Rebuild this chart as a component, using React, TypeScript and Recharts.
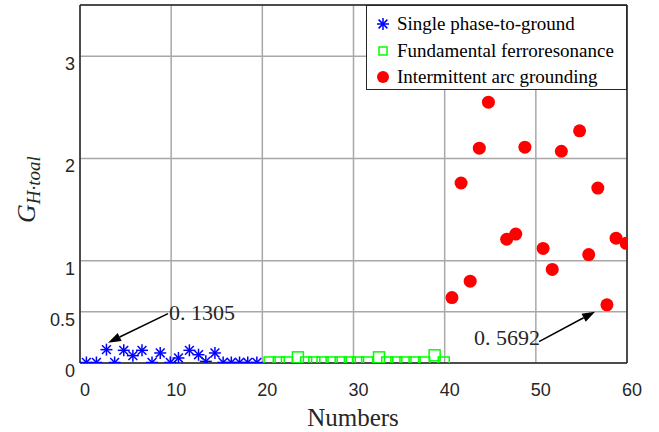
import React from 'react';
import { ScatterChart, Scatter, XAxis, YAxis, CartesianGrid, ReferenceLine, Legend } from 'recharts';

const singleX = [0.7, 1.8, 2.9, 3.8, 4.8, 5.8, 6.8, 7.9, 8.8, 9.9, 10.8, 12.0, 13.0, 13.8, 14.8, 15.7, 16.6, 17.5, 18.4, 19.4];
const singleY = [0.005, 0.005, 0.1305, 0.005, 0.124, 0.072, 0.124, 0.005, 0.098, 0.005, 0.049, 0.124, 0.081, 0.016, 0.098, 0.005, 0.005, 0.005, 0.005, 0.005];

const ferroX = [20.8, 21.8, 22.7, 23.9, 24.8, 25.7, 26.6, 27.6, 28.6, 29.6, 30.5, 31.5, 32.8, 33.7, 34.7, 35.7, 36.7, 37.75, 38.9, 39.9];
const ferroY = [0.005, 0.005, 0.005, 0.055, 0.005, 0.005, 0.005, 0.005, 0.005, 0.005, 0.005, 0.005, 0.055, 0.005, 0.005, 0.005, 0.005, 0.005, 0.075, 0.005];

const arcX = [40.8, 41.8, 42.8, 43.8, 44.8, 46.8, 47.8, 48.8, 50.8, 51.8, 52.8, 54.8, 55.8, 56.8, 57.8, 58.8, 59.9];
const arcY = [0.64, 1.76, 0.8, 2.1, 2.55, 1.21, 1.26, 2.11, 1.12, 0.915, 2.07, 2.27, 1.06, 1.71, 0.5692, 1.22, 1.17];

const xTicks = [0, 10, 20, 30, 40, 50, 60];
const yTicks = [0, 0.5, 1, 2, 3];

const seriesNames = ['Single phase-to-ground', 'Fundamental ferroresonance', 'Intermittent arc grounding'];

// annotation arrows: [from, to] in data units, plus label text
const annoText = ['0. 1305', '0. 5692'];
const annoFrom = [{ x: 9.65, y: 0.483 }, { x: 50.35, y: 0.209 }];
const annoTo = [{ x: 3.07, y: 0.199 }, { x: 56.5, y: 0.502 }];

const zip = (xs: number[], ys: number[]) => xs.map((x, i) => ({ x, y: ys[i] }));
const singleData = zip(singleX, singleY);
const ferroData = zip(ferroX, ferroY);
const arcData = zip(arcX, arcY);

const AX = '#262626';
const SERIF = '"Liberation Serif", "Times New Roman", serif';
const SANS = '"Liberation Sans", Arial, sans-serif';

const Star = (props: any) => {
  const { cx, cy } = props;
  if (cx == null || cy == null) return null;
  const r = 6;
  const d = 4.4;
  return (
    <g stroke="#0000ff" strokeWidth={1.5} fill="none">
      <line x1={cx - r} y1={cy} x2={cx + r} y2={cy} />
      <line x1={cx} y1={cy - r} x2={cx} y2={cy + r} />
      <line x1={cx - d} y1={cy - d} x2={cx + d} y2={cy + d} />
      <line x1={cx - d} y1={cy + d} x2={cx + d} y2={cy - d} />
    </g>
  );
};

const Square = (props: any) => {
  const { cx, cy } = props;
  if (cx == null || cy == null) return null;
  const h = 5.5;
  return <rect x={cx - h} y={cy - h} width={2 * h} height={2 * h} fill="none" stroke="#00ff00" strokeWidth={1.5} />;
};

const Dot = (props: any) => {
  const { cx, cy } = props;
  if (cx == null || cy == null) return null;
  return <circle cx={cx} cy={cy} r={6.5} fill="#ff0000" stroke="none" />;
};

const XTick = (props: any) => {
  const { x, y, payload } = props;
  return (
    <text x={x + 5} y={y + 33} textAnchor="middle" fontFamily={SANS} fontSize={18} fill={AX}>
      {payload.value}
    </text>
  );
};

const YTick = (props: any) => {
  const { x, y, payload } = props;
  return (
    <text x={x - 5} y={y + 14} textAnchor="end" fontFamily={SANS} fontSize={18} fill={AX}>
      {payload.value}
    </text>
  );
};

const YLabel = () => (
  <text transform="rotate(-90 35 223)" x={35} y={223} fontFamily={SERIF} fontStyle="italic" fill={AX}>
    <tspan fontSize={26}>G</tspan>
    <tspan fontSize={19} dy={5}>H·toal</tspan>
  </text>
);

const XLabel = () => (
  <text x={353} y={426} textAnchor="middle" fontFamily={SERIF} fontSize={25} fill={AX}>
    Numbers
  </text>
);

const makeArrow = (idx: number) => (props: any) => {
  const { x1, y1, x2, y2 } = props;
  if ([x1, y1, x2, y2].some((v) => v == null || isNaN(v))) return null;
  const dx = x2 - x1;
  const dy = y2 - y1;
  const len = Math.sqrt(dx * dx + dy * dy);
  const ux = dx / len;
  const uy = dy / len;
  const hl = 13;
  const hw = 4.5;
  const bx = x2 - ux * hl;
  const by = y2 - uy * hl;
  const pts = `${x2},${y2} ${bx - uy * hw},${by + ux * hw} ${bx + uy * hw},${by - ux * hw}`;
  const textProps =
    idx === 0
      ? { x: x1 + 1, y: y1 + 6, textAnchor: 'start' as const }
      : { x: x1 + 1, y: y1 + 3, textAnchor: 'end' as const };
  return (
    <g>
      <line x1={x1} y1={y1} x2={bx} y2={by} stroke="#000" strokeWidth={1.5} />
      <polygon points={pts} fill="#000" />
      <text {...textProps} fontFamily={SERIF} fontSize={22} fill={AX}>
        {annoText[idx]}
      </text>
    </g>
  );
};

const LegendBox = () => {
  const icons = [
    <svg width={20} height={20} key="s">
      <Star cx={10} cy={10} />
    </svg>,
    <svg width={20} height={20} key="q">
      <rect x={6} y={6} width={8} height={8} fill="none" stroke="#00ff00" strokeWidth={1.5} />
    </svg>,
    <svg width={20} height={20} key="c">
      <circle cx={10} cy={10} r={6} fill="#ff0000" />
    </svg>,
  ];
  return (
    <div
      style={{
        width: 261,
        height: 85,
        boxSizing: 'border-box',
        border: `1.5px solid ${AX}`,
        background: '#fff',
        paddingTop: 5,
        fontFamily: SERIF,
        fontSize: 19,
        color: '#000',
      }}
    >
      {seriesNames.map((n, i) => (
        <div key={n} style={{ display: 'flex', alignItems: 'center', height: 26.5, whiteSpace: 'nowrap' }}>
          <div style={{ width: 20, height: 20, marginLeft: 6, marginRight: 4 }}>{icons[i]}</div>
          <span>{n}</span>
        </div>
      ))}
    </div>
  );
};

export default function App() {
  return (
    <div style={{ position: 'absolute', left: 0, top: 0, width: 659, height: 432, background: '#fff' }}>
      <ScatterChart width={659} height={432} margin={{ top: 5, right: 32, bottom: 0, left: 0 }}>
        <CartesianGrid stroke="#a8a8a8" strokeWidth={1.5} />
        <XAxis
          type="number"
          dataKey="x"
          domain={[0, 60]}
          ticks={xTicks}
          interval={0}
          allowDataOverflow
          height={69}
          tickSize={0}
          tickMargin={0}
          tickLine={false}
          stroke={AX}
          strokeWidth={1.5}
          tick={<XTick />}
          label={<XLabel />}
        />
        <YAxis
          type="number"
          dataKey="y"
          domain={[0, 3.5]}
          ticks={yTicks}
          interval={0}
          allowDataOverflow
          width={80}
          tickSize={0}
          tickMargin={0}
          tickLine={false}
          stroke={AX}
          strokeWidth={1.5}
          tick={<YTick />}
          label={<YLabel />}
        />
        <ReferenceLine y={3.5} stroke={AX} strokeWidth={1.5} ifOverflow="visible" />
        <ReferenceLine x={60} stroke={AX} strokeWidth={1.5} ifOverflow="visible" />
        <Scatter name={seriesNames[0]} data={singleData} shape={<Star />} isAnimationActive={false} />
        <Scatter name={seriesNames[1]} data={ferroData} shape={<Square />} isAnimationActive={false} />
        <Scatter name={seriesNames[2]} data={arcData} shape={<Dot />} isAnimationActive={false} />
        {annoText.map((t, i) => (
          <ReferenceLine
            key={t}
            segment={[annoFrom[i], annoTo[i]]}
            ifOverflow="visible"
            shape={makeArrow(i)}
          />
        ))}
        <Legend
          layout="vertical"
          align="center"
          verticalAlign="middle"
          content={<LegendBox />}
          wrapperStyle={{ position: 'absolute', left: 366, top: 5, width: 261, height: 85 }}
        />
      </ScatterChart>
    </div>
  );
}
